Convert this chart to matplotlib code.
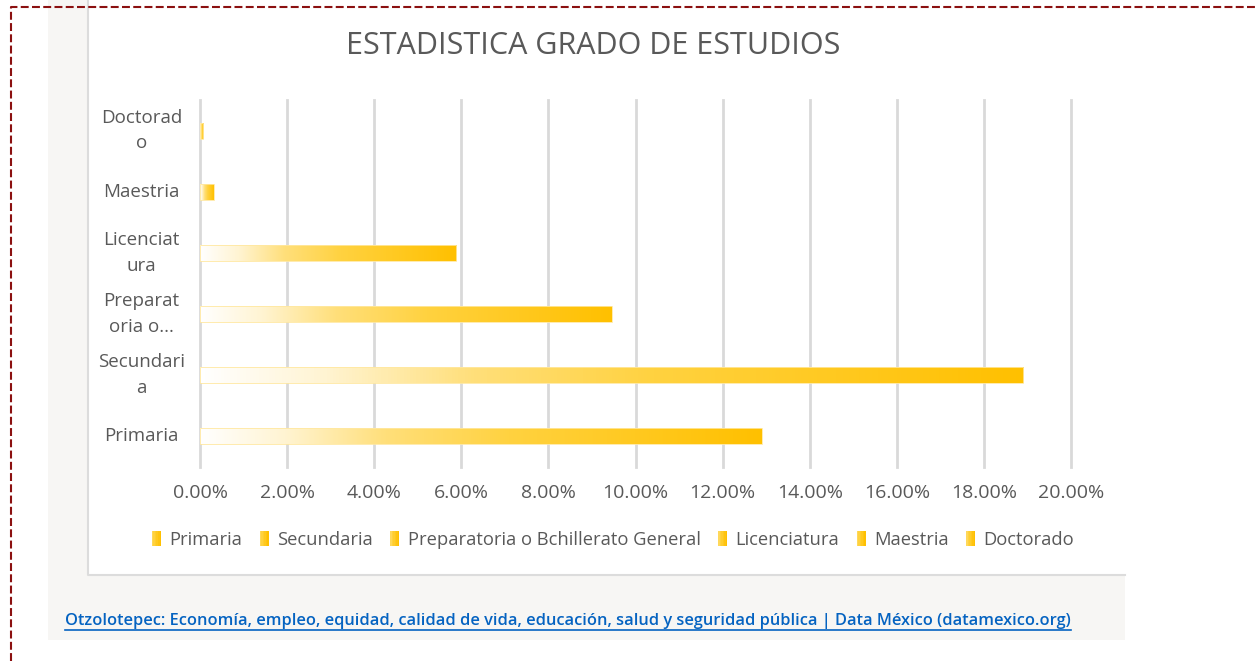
import numpy as np
import matplotlib
matplotlib.use("Agg")
import matplotlib.pyplot as plt
from matplotlib.colors import LinearSegmentedColormap
from matplotlib.patches import Rectangle
from matplotlib.lines import Line2D
from matplotlib.legend_handler import HandlerBase

# data
categories = ["Primaria", "Secundaria", "Preparatoria o Bchillerato General",
              "Licenciatura", "Maestria", "Doctorado"]
tick_labels = ["Primaria", "Secundari\na", "Preparat\noria o...",
               "Licenciat\nura", "Maestria", "Doctorad\no"]
shares = [0.1290, 0.1890, 0.0946, 0.0588, 0.0032, 0.0008]
xticks = [0.00, 0.02, 0.04, 0.06, 0.08, 0.10, 0.12, 0.14, 0.16, 0.18, 0.20]

title = "ESTADISTICA GRADO DE ESTUDIOS"
source = ("Otzolotepec: Economía, empleo, equidad, calidad de vida, educación, "
          "salud y seguridad pública | Data México (datamexico.org)")

W, H = 1256, 661
TXT = "#595959"
GOLD = "#FFC000"
GRID = "#D9D9D9"

plt.rcParams["font.family"] = ["Open Sans", "DejaVu Sans"]

bar_cmap = LinearSegmentedColormap.from_list(
    "gold_fade", [(0.0, "#FFFFFF"), (0.15, "#FFF4D2"), (0.33, "#FFDF7A"),
                  (0.55, "#FFD240"), (1.0, GOLD)])


def fx(x):
    return x / W


def fy(y):
    return 1 - y / H


fig = plt.figure(figsize=(W / 100, H / 100), dpi=100)

# faint backdrop and white chart panel
fig.add_artist(Rectangle((fx(48), fy(640)), fx(1125) - fx(48), fy(0) - fy(640),
                         transform=fig.transFigure, facecolor="#F7F6F4",
                         edgecolor="none", zorder=-3))
fig.add_artist(Rectangle((fx(88), fy(575)), fx(1125) - fx(88), fy(0) - fy(575),
                         transform=fig.transFigure, facecolor="white",
                         edgecolor="none", zorder=-2))
fig.add_artist(Line2D([fx(88), fx(88), fx(1125)], [fy(0), fy(575), fy(575)],
                      transform=fig.transFigure, color="#DCDCDC", lw=1.5,
                      zorder=-1))

# dashed page border
border = Line2D([fx(11), fx(11), fx(W)], [fy(H), fy(7), fy(7)],
                transform=fig.transFigure, color="#8B1010", lw=1.5,
                dashes=(3.8, 1.6), zorder=5)
fig.add_artist(border)

ax = fig.add_axes([fx(200), fy(467), fx(1071) - fx(200), fy(100) - fy(467)])
ax.set_facecolor("none")
ax.set_zorder(1)

ypos = np.arange(len(categories))
bars = ax.barh(ypos, shares, height=0.26, color="none",
               edgecolor="#FFE8A0", lw=0.6, zorder=4)

grad = np.linspace(0, 1, 256).reshape(1, -1)
for rect in bars.patches:
    x0, y0 = rect.get_x(), rect.get_y()
    w, h = rect.get_width(), rect.get_height()
    im = ax.imshow(grad, cmap=bar_cmap, aspect="auto", interpolation="bilinear",
                   extent=(x0, x0 + w, y0, y0 + h), zorder=3)
    im.set_clip_path(rect)

ax.set_xlim(0, 0.20)
ax.set_ylim(-0.5, len(categories) - 0.5)
ax.set_xticks(xticks)
ax.set_xticklabels([f"{v * 100:.2f}%" for v in xticks])
ax.set_yticks(ypos)
ax.set_yticklabels(tick_labels, ha="center", va="center",
                   multialignment="center", linespacing=1.55)
ax.tick_params(axis="y", length=0, pad=42, labelsize=13.5, labelcolor=TXT)
ax.tick_params(axis="x", length=0, pad=12, labelsize=14, labelcolor=TXT)
ax.grid(axis="x", color=GRID, lw=2, zorder=1)
for gl in ax.get_xgridlines():
    gl.set_clip_on(False)
ax.set_axisbelow(True)
for s in ax.spines.values():
    s.set_visible(False)

fig.text(fx(593), fy(46), title, ha="center", va="center", fontsize=22,
         color=TXT)


class GradientSquare(HandlerBase):
    def create_artists(self, legend, orig_handle, xdescent, ydescent,
                       width, height, fontsize, trans):
        n = 6
        cols = bar_cmap(np.linspace(0.45, 1.0, n))
        arts = []
        for k in range(n):
            r = Rectangle((-xdescent + k * width / n, -ydescent), width / n,
                          height, facecolor=cols[k], edgecolor="none",
                          transform=trans)
            arts.append(r)
        return arts


handles = [Rectangle((0, 0), 1, 1) for _ in categories]
leg = fig.legend(handles, categories, loc="center", ncol=len(categories),
                 bbox_to_anchor=(fx(613), fy(540)), frameon=False,
                 fontsize=13.2, labelcolor=TXT, handlelength=0.5,
                 handleheight=0.85, handletextpad=0.45, columnspacing=0.95,
                 handler_map={Rectangle: GradientSquare()})

src = fig.text(fx(65), fy(621), source, ha="left", va="center", fontsize=11.75,
               fontweight="semibold", color="#0563C1")
fig.canvas.draw()
bb = src.get_window_extent()
fig.add_artist(Line2D([bb.x0 / W, bb.x1 / W], [(bb.y0 - 1) / H] * 2,
                      transform=fig.transFigure, color="#0563C1", lw=1.2))

fig.savefig("out.png", dpi=100)
